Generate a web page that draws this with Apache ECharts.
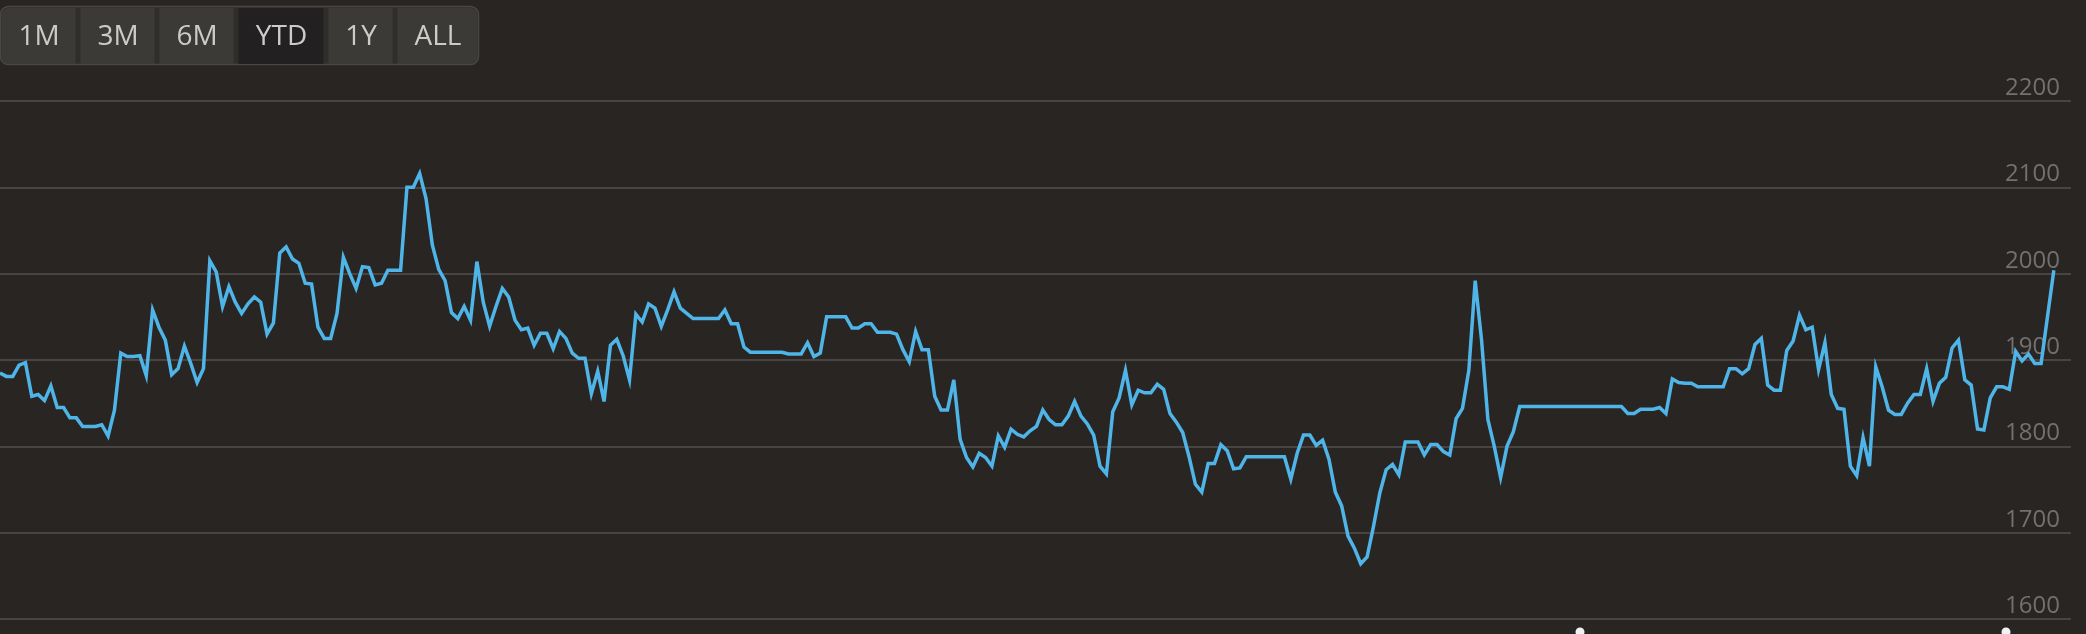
<!DOCTYPE html>
<html>
<head>
<meta charset="utf-8">
<script src="https://cdn.jsdelivr.net/npm/echarts@6/dist/echarts.min.js"></script>
<style>
  html, body { margin: 0; padding: 0; background: #282522; }
  #chart { width: 2086px; height: 634px; }
</style>
</head>
<body>
<div id="chart"></div>
<script>
// ---- data ----
const rangeButtons = ['1M', '3M', '6M', 'YTD', '1Y', 'ALL'];
const activeButton = 'YTD';
const yTicks = [1600, 1700, 1800, 1900, 2000, 2100, 2200];
const prices = [
  1885,1881,1881,1894,1897,1858,1860,1853,1870,1845,
  1845,1833,1833,1823,1823,1823,1825,1812,1842,1908,
  1904,1904,1905,1882,1958,1938,1923,1883,1890,1916,
  1896,1874,1890,2015,2002,1962,1985,1967,1954,1965,
  1973,1967,1930,1943,2024,2031,2017,2012,1989,1988,
  1938,1925,1925,1954,2019,2000,
  1983,2008,2007,1987,1989,2004,2004,2004,2100,2100,
  2116,2087,2033,2005,1992,1955,1948,1962,1946,2014,
  1967,1939,1962,1983,1973,1946,1935,1937,1917,1931,
  1931,1913,1933,1925,1908,1902,1902,1861,1887,1852,
  1917,1924,1905,1877,1953,1944,1965,1960,1939,1958,
  1979,1960,1954,
  1948,1948,1948,1948,1948,1958,1942,1942,1915,1909,
  1909,1909,1909,1909,1909,1907,1907,1907,1920,1904,
  1908,1950,1950,1950,1950,1937,1937,1942,1942,1932,
  1932,1932,1930,1912,1898,1933,1912,1912,1858,1842,
  1842,1877,1808,1787,1776,1792,1787,1777,1812,1799,
  1820,1814,1811,1818,
  1823,1842,1831,1825,1825,1835,1852,1835,1826,1813,
  1777,1768,1840,1856,1888,1848,1865,1862,1862,1872,
  1866,1838,1828,1816,1788,1756,1747,1780,1780,1802,
  1795,1774,1775,1788,1788,1788,1788,1788,1788,1788,
  1762,1792,1813,1813,1801,1807,1785,1747,1731,1696,
  1682,1664,1672,1707,1746,1773,1779,1767,1805,1805,
  1805,1790,1802,1802,1794,1790,1832,1844,1888,1992,
  1923,1831,1800,1764,1800,1817,1846,
  1846,1846,1846,1846,1846,1846,1846,1846,1846,1846,
  1846,1846,1846,1846,1846,1846,
  1838,1838,1843,1843,1843,1845,1838,1878,1874,1873,
  1873,1869,1869,1869,1869,1869,1890,1890,1884,1890,
  1918,1925,1871,1865,1865,1911,1922,1952,1935,1938,
  1889,1920,1860,1844,1843,1777,1766,1810,1777,1892,
  1869,1842,1837,1837,1850,1860,1860,1890,1852,1873,
  1880,1914,1923,1877,1871,1820,1819,1856,1869,1869,
  1866,1910,1899,1907,1896,1896,1950,2004
];

// ---- chart ----
const chart = echarts.init(document.getElementById('chart'), null, { renderer: 'canvas' });
const seriesData = prices.map((v, i) => [i, v]);

// button layout (pixels)
const btnBoxes = [[0, 76], [79, 155], [158, 234], [237, 324], [327, 393], [396, 478]];
const btnTop = 7, btnH = 57;
const graphics = [{
  type: 'rect', shape: { x: 0.5, y: 6.5, width: 478, height: 58, r: 8 },
  style: { fill: '#302e2b', stroke: '#4a4845', lineWidth: 1.5 }, z: 10
}];
rangeButtons.forEach((label, i) => {
  const [x0, x1] = btnBoxes[i];
  const isActive = label === activeButton;
  let r = 0;
  if (i === 0) r = [7, 0, 0, 7];
  if (i === rangeButtons.length - 1) r = [0, 7, 7, 0];
  graphics.push({
    type: 'rect', shape: { x: x0 + 1.5, y: btnTop + 1, width: x1 - x0 - 2, height: btnH - 1, r: r },
    style: { fill: isActive ? '#222020' : '#3c3a37' }, z: 11
  });
  graphics.push({
    type: 'text', x: (x0 + x1) / 2 + 1, y: 37,
    style: {
      text: label, fill: '#cbcbcb', font: '28px "Open Sans"',
      textAlign: 'center', textVerticalAlign: 'middle'
    }, z: 12
  });
});
// small handles at the bottom
[1580, 2006].forEach(x => {
  graphics.push({
    type: 'circle', shape: { cx: x, cy: 632, r: 4.5 },
    style: { fill: '#f2f2f2' }, z: 12
  });
});

chart.setOption({
  backgroundColor: '#282522',
  animation: false,
  grid: { left: 0, right: 15, top: 101, bottom: 15, containLabel: false },
  xAxis: {
    type: 'value',
    min: 0,
    max: (prices.length - 1) + 2.7,
    axisLine: { show: false }, axisTick: { show: false },
    axisLabel: { show: false }, splitLine: { show: false }
  },
  yAxis: {
    type: 'value',
    position: 'right',
    min: yTicks[0], max: yTicks[yTicks.length - 1], interval: 100,
    axisLine: { show: false }, axisTick: { show: false },
    splitLine: { show: true, lineStyle: { color: '#474441', width: 2 } },
    axisLabel: {
      inside: true, margin: 11, color: '#727070',
      fontFamily: 'Open Sans', fontSize: 24,
      align: 'right', verticalAlign: 'bottom', padding: [0, 0, 1, 0],
      showMinLabel: true, showMaxLabel: true,
      formatter: v => String(v)
    }
  },
  series: [{
    type: 'line',
    data: seriesData,
    showSymbol: false,
    symbol: 'none',
    lineStyle: { color: '#4fb4e8', width: 3.5, join: 'miter', miterLimit: 6 },
    z: 5
  }],
  graphic: graphics
});
</script>
</body>
</html>
